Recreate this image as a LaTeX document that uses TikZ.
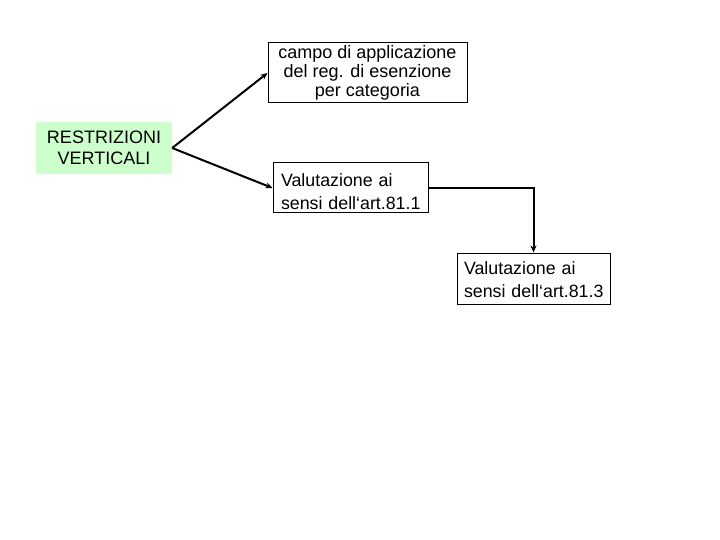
\documentclass[tikz,border=0pt]{standalone}
\usepackage{fontspec}
\setmainfont{Liberation Sans}
\usetikzlibrary{arrows.meta}
\definecolor{lgreen}{HTML}{CCFFCC}
\begin{document}
\begin{tikzpicture}[x=1pt,y=-1pt,
  box/.style={draw=black,line width=1pt,rectangle,inner sep=0pt,font=\fontsize{18}{18.8}\selectfont},
  lbox/.style={box,text width=139pt,align=left,font=\fontsize{17.8}{22.5}\selectfont},
  conn/.style={line width=2pt,-{Stealth[length=7pt,width=6pt]}}]
\useasboundingbox (0,0) rectangle (720,540);
\node[rectangle,fill=lgreen,minimum width=136pt,minimum height=52pt,inner sep=0pt,align=center,font=\fontsize{18}{21}\selectfont] (rv) at (104,148) {RESTRIZIONI\\VERTICALI};
\node[box,minimum width=199pt,minimum height=60pt,align=center] (top) at (367.5,73) {campo di applicazione\\del reg. di esenzione\\per categoria};
\node[lbox,minimum width=155pt,minimum height=50pt] (mid) at (350.5,188) {\mbox{\rule{0pt}{20pt}Valutazione ai}\\\mbox{sensi dell‘art.81.1}};
\node[lbox,minimum width=153pt,minimum height=51pt] (bot) at (533.5,278.5) {\mbox{\rule{0pt}{15pt}Valutazione ai}\\\mbox{sensi dell‘art.81.3}};
\draw[conn] (rv.east) -- (top.west);
\draw[conn] (rv.east) -- (mid.west);
\draw[conn] (mid.east) -| (bot.north);
\end{tikzpicture}
\end{document}
